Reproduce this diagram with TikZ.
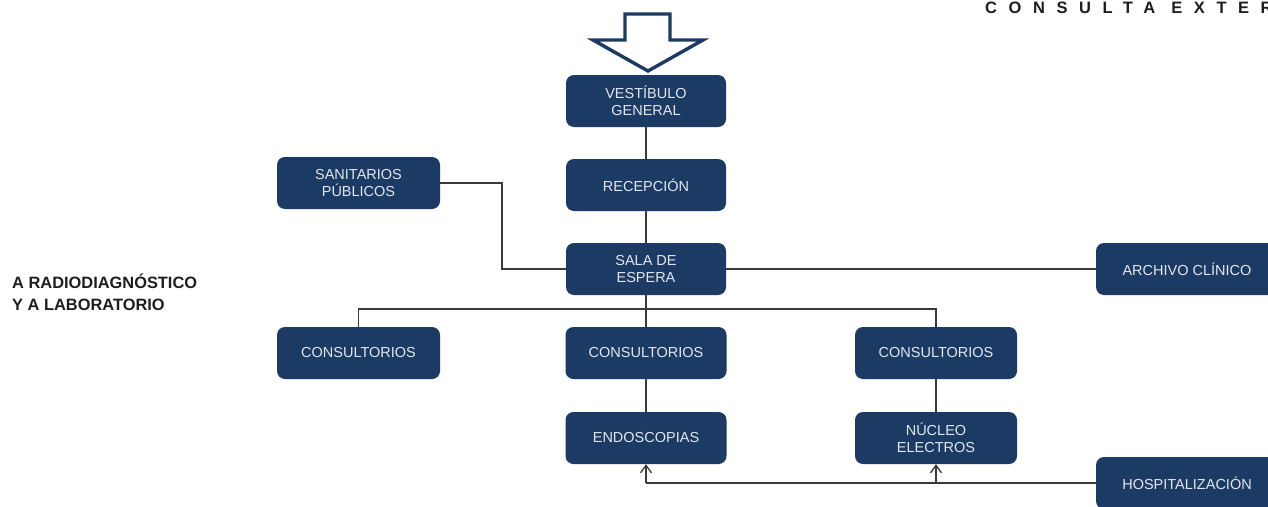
\documentclass[tikz,border=0pt]{standalone}
\usepackage{fontspec}
\setmainfont{Liberation Sans}
\usetikzlibrary{arrows.meta}
\definecolor{navy}{HTML}{1B3A64}
\definecolor{boxtext}{HTML}{E2E7EE}
\definecolor{wire}{HTML}{3A3A3A}
\definecolor{ink}{HTML}{1E1E1E}
\tikzset{
  room/.style={draw=none, fill=navy, rounded corners=8pt, text=boxtext,
    align=center, inner sep=0pt, minimum height=52pt,
    font=\fontsize{14.5}{16.5}\selectfont},
  link/.style={draw=wire, line width=1.4pt},
  feed/.style={link, -{Straight Barb[length=7.5pt,width=11pt,line width=1.3pt]}},
  entry/.style={draw=navy, fill=white, line width=3.4pt, miter limit=20},
  caption/.style={text=ink, inner sep=0pt, font=\bfseries\fontsize{16.4}{21}\selectfont, align=left},
}
\begin{document}
\begin{tikzpicture}[x=1pt,y=-1pt]
\useasboundingbox (0,0) rectangle (1268,506);
\clip (0,0) rectangle (1268,506);
\fill[white] (0,0) rectangle (1268,506);

% title, running off the right edge of the sheet
\node[anchor=base west, inner sep=0pt, text=ink,
  font=\bfseries\fontsize{16.5}{18}\selectfont\addfontfeatures{LetterSpace=70}]
  (title) at (985,13) {CONSULTA EXTERNA};

% entrance arrow
\draw[entry] (625,14) -- (670,14) -- (670,40) -- (703,40) -- (648,71)
  -- (593,40) -- (625,40) -- cycle;

% rooms
\node[room, minimum width=160pt] (vest) at (646,101) {VESTÍBULO\\GENERAL};
\node[room, minimum width=160pt] (recep) at (646,185) {RECEPCIÓN};
\node[room, minimum width=160pt] (sala) at (646,269) {SALA DE\\ESPERA};
\node[room, minimum width=163pt] (sanit) at (358.5,183) {SANITARIOS\\PÚBLICOS};
\node[room, minimum width=182pt] (arch) at (1187,269) {ARCHIVO CLÍNICO};
\node[room, minimum width=163pt] (cons1) at (358.5,353) {CONSULTORIOS};
\node[room, minimum width=161pt] (cons2) at (646,353) {CONSULTORIOS};
\node[room, minimum width=162pt] (cons3) at (936,353) {CONSULTORIOS};
\node[room, minimum width=161pt] (endo) at (646,438) {ENDOSCOPIAS};
\node[room, minimum width=162pt] (nucl) at (936,438) {NÚCLEO\\ELECTROS};
\node[room, minimum width=182pt] (hosp) at (1187,483) {HOSPITALIZACIÓN};

% side note
\node[caption, anchor=base west] (rx) at (12,288.5) {A RADIODIAGNÓSTICO};
\node[caption, anchor=base west] (lab) at (12,310.5) {Y A LABORATORIO};

% connectors
\coordinate (bus) at (646,309);
\draw[link] (vest.south) -- (recep.north);
\draw[link] (recep.south) -- (sala.north);
\draw[link] (sala.south) -- (cons2.north);
\draw[link] (cons1.north) |- (bus) -| (cons3.north);
\draw[link] (sanit.east) -- (502,183) |- (sala.west);
\draw[link] (sala.east) -- (arch.west);
\draw[link] (cons2.south) -- (endo.north);
\draw[link] (cons3.south) -- (nucl.north);
\draw[link] (hosp.west) -- (endo.south |- hosp.west);
\draw[feed] (endo.south |- hosp.west) -- (endo.south);
\draw[feed] (nucl.south |- hosp.west) -- (nucl.south);
\end{tikzpicture}
\end{document}
